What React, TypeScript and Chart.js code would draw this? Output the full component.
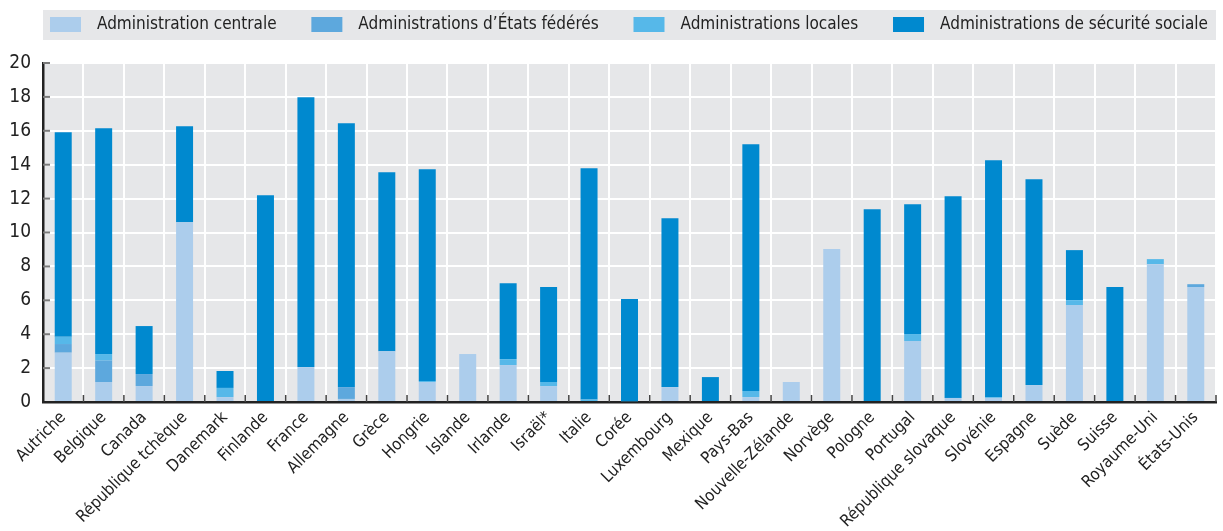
import React, { useEffect, useRef } from "react";
import { Chart, registerables } from "chart.js";

Chart.register(...registerables);

const categories = [
  "Autriche", "Belgique", "Canada", "République tchèque", "Danemark", "Finlande", "France",
  "Allemagne", "Grèce", "Hongrie", "Islande", "Irlande", "Israël*", "Italie", "Corée",
  "Luxembourg", "Mexique", "Pays-Bas", "Nouvelle-Zélande", "Norvège", "Pologne", "Portugal",
  "République slovaque", "Slovénie", "Espagne", "Suède", "Suisse", "Royaume-Uni", "États-Unis",
];

const seriesNames = [
  "Administration centrale",
  "Administrations d’États fédérés",
  "Administrations locales",
  "Administrations de sécurité sociale",
];

const central = [2.91, 1.18, 0.94, 10.61, 0.29, 0, 2.06, 0.18, 3.0, 1.18, 2.83, 2.18, 0.94, 0, 0, 0.88, 0, 0.29, 1.18, 9.02, 0, 3.6, 0.24, 0.24, 1.0, 5.72, 0, 8.13, 6.78];
const federated = [0.51, 1.26, 0.71, 0, 0, 0, 0, 0.7, 0, 0, 0, 0, 0, 0, 0, 0, 0, 0, 0, 0, 0, 0, 0, 0, 0, 0, 0, 0, 0.17];
const local = [0.43, 0.39, 0, 0, 0.54, 0, 0, 0, 0, 0.06, 0, 0.35, 0.24, 0.15, 0.05, 0, 0, 0.36, 0, 0, 0, 0.41, 0, 0.05, 0, 0.29, 0, 0.3, 0];
const social = [12.06, 13.32, 2.83, 5.66, 1.0, 12.2, 15.92, 15.56, 10.56, 12.49, 0, 4.48, 5.6, 13.64, 6.02, 9.96, 1.47, 14.55, 0, 0, 11.37, 7.66, 11.9, 13.97, 12.14, 2.95, 6.78, 0, 0];

const yTicks = [0, 2, 4, 6, 8, 10, 12, 14, 16, 18, 20];

const colors = ["#accdec", "#5da8dd", "#56b8e9", "#0089cf"];
const FONT = '"Liberation Sans Narrow", "DejaVu Sans Condensed", "Arial Narrow", sans-serif';
const PLOT_BG = "#e6e7e9";

const bgPlugin = {
  id: "plotBg",
  beforeDraw(chart: any) {
    const { ctx, chartArea } = chart;
    ctx.save();
    ctx.fillStyle = PLOT_BG;
    ctx.fillRect(chartArea.left, chartArea.top, chartArea.right - chartArea.left, chartArea.bottom - chartArea.top);
    ctx.restore();
  },
};

const legendPlugin = {
  id: "customLegend",
  afterDraw(chart: any) {
    const { ctx, chartArea } = chart;
    ctx.save();
    ctx.fillStyle = PLOT_BG;
    ctx.fillRect(chartArea.left, 10, chartArea.right - chartArea.left, 30);
    ctx.font = `17px ${FONT}`;
    ctx.textBaseline = "middle";
    const labels = chart.data.datasets.map((ds: any) => ds.label);
    const widths = labels.map((l: string) => ctx.measureText(l).width);
    const startX = chartArea.left + 7;
    const endX = chartArea.right - 8;
    const fixed = labels.length * 47;
    const gap = (endX - startX - fixed - widths.reduce((a: number, b: number) => a + b, 0)) / (labels.length - 1);
    let x = startX;
    chart.data.datasets.forEach((ds: any, i: number) => {
      ctx.fillStyle = ds.backgroundColor;
      ctx.fillRect(x, 17, 31, 15);
      ctx.fillStyle = "#222";
      ctx.fillText(ds.label, x + 47, 25);
      x += 47 + widths[i] + gap;
    });
    ctx.restore();
  },
};

const ticksPlugin = {
  id: "innerTicks",
  afterDraw(chart: any) {
    const { ctx, chartArea, scales } = chart;
    const xs = scales.x;
    const ys = scales.y;
    ctx.save();
    ctx.strokeStyle = "#7a7a7a";
    ctx.lineWidth = 2;
    yTicks.forEach((v) => {
      if (v === 0) return;
      const y = ys.getPixelForValue(v);
      ctx.beginPath();
      ctx.moveTo(chartArea.left, y);
      ctx.lineTo(chartArea.left + 7, y);
      ctx.stroke();
    });
    ctx.strokeStyle = "#444";
    ctx.lineWidth = 1.5;
    const n = categories.length;
    const w = (chartArea.right - chartArea.left) / n;
    for (let i = 1; i <= n; i++) {
      const x = xs.getPixelForValue(i - 1) + w / 2;
      ctx.beginPath();
      ctx.moveTo(x, chartArea.bottom);
      ctx.lineTo(x, chartArea.bottom - 7);
      ctx.stroke();
    }
    ctx.restore();
  },
};

export default function App() {
  const ref = useRef<HTMLCanvasElement>(null);

  useEffect(() => {
    document.body.style.margin = "0";
    const values = [central, federated, local, social];
    const chart = new Chart(ref.current as HTMLCanvasElement, {
      type: "bar",
      data: {
        labels: categories,
        datasets: seriesNames.map((name, i) => ({
          label: name,
          data: values[i],
          backgroundColor: colors[i],
          borderWidth: 0,
          barPercentage: 0.42,
          categoryPercentage: 1,
        })),
      },
      options: {
        animation: false,
        responsive: false,
        maintainAspectRatio: false,
        layout: { padding: { top: 63, right: 7, left: 0, bottom: 0 } },
        plugins: { legend: { display: false }, tooltip: { enabled: false } },
        scales: {
          x: {
            stacked: true,
            offset: true,
            grid: { offset: true, color: "#ffffff", lineWidth: 2, drawTicks: false },
            border: { display: true, color: "#222", width: 2.5 },
            ticks: {
              minRotation: 45,
              maxRotation: 45,
              autoSkip: false,
              padding: 6,
              color: "#222",
              font: { family: FONT, size: 16.5 },
            },
            afterFit(scale: any) {
              scale.height = 129;
            },
          },
          y: {
            stacked: true,
            min: 0,
            max: 20,
            ticks: {
              stepSize: 2,
              padding: 12,
              color: "#222",
              font: { family: FONT, size: 19 },
            },
            grid: { color: "#ffffff", lineWidth: 2, drawTicks: false },
            border: { display: true, color: "#222", width: 2.5 },
            afterFit(scale: any) {
              scale.width = 43;
            },
          },
        },
      },
      plugins: [bgPlugin, ticksPlugin, legendPlugin],
    });
    return () => chart.destroy();
  }, []);

  return (
    <div style={{ width: 1223, height: 531 }}>
      <canvas ref={ref} width={1223} height={531} style={{ width: 1223, height: 531 }} />
    </div>
  );
}
